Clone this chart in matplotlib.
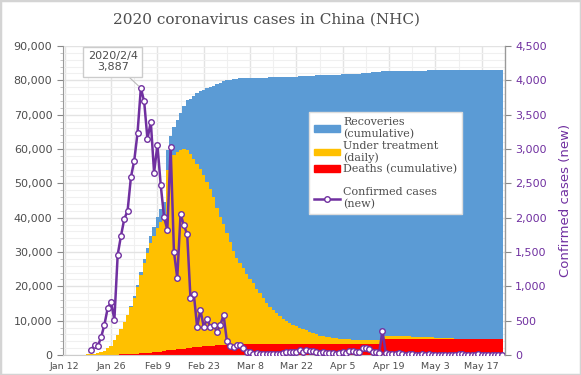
import numpy as np
import pandas as pd
import matplotlib
matplotlib.use("Agg")
import matplotlib.pyplot as plt
from matplotlib.patches import Patch, Rectangle
from matplotlib.lines import Line2D
from matplotlib.ticker import FuncFormatter, MultipleLocator

# -----------------------------
# Data (NHC, mainland China)
# -----------------------------
dates = pd.date_range("2020-01-12", "2020-05-23")

confirmed_total = [
    41, 41, 41, 41, 45, 62, 121, 198, 291, 440, 571, 830, 1287, 1975, 2744, 4515, 5974, 7711, 9692, 11791,
    14380, 17205, 20438, 24324, 28018, 31161, 34546, 37198, 40171, 42638, 44653, 59804, 63851, 66492, 68500,
    70548, 72436, 74185, 74576, 75465, 76288, 76936, 77150, 77658, 78064, 78497, 78824, 79251, 79824,
    80026, 80151, 80270, 80409, 80552, 80651, 80695, 80735, 80754, 80778, 80793, 80813, 80824, 80844, 80860,
    80881, 80894, 80928, 80967, 81008, 81054, 81093, 81171, 81218, 81285, 81340, 81394, 81439, 81470, 81518, 81554,
    81589, 81620, 81639, 81669, 81708, 81740, 81802, 81865, 81907, 81953, 82052, 82160, 82249, 82295, 82341,
    82367, 82692, 82719, 82735, 82747, 82758, 82788, 82798, 82804, 82816, 82827, 82830, 82836, 82858, 82862,
    82874, 82875, 82877, 82880, 82881, 82883, 82885, 82886, 82887, 82901, 82918, 82919, 82926, 82929, 82933,
    82941, 82947, 82954, 82960, 82965, 82967, 82971, 82974,
]

deaths = [
    1, 1, 1, 1, 2, 2, 3, 3, 6, 9, 17, 25, 41, 56, 80, 106, 132, 170, 213, 259,
    304, 361, 425, 490, 563, 636, 722, 811, 908, 1016, 1113, 1367, 1380, 1523, 1665, 1770, 1868, 2004, 2118,
    2236, 2345, 2442, 2592, 2663, 2715, 2744, 2788, 2835, 2870,
    2912, 2943, 2981, 3012, 3042, 3070, 3097, 3119, 3136, 3158, 3169, 3176, 3189, 3199, 3213, 3226, 3237,
    3245, 3248, 3255, 3261, 3270, 3277, 3281, 3287, 3292, 3295, 3300, 3304, 3305, 3312,
    3318, 3322, 3326, 3329, 3331, 3331, 3333, 3335, 3336, 3339, 3339, 3341, 3341, 3341, 3342, 3342,
    4632, 4632, 4632, 4632, 4632, 4632, 4632, 4632, 4632, 4632, 4632, 4632, 4632, 4632,
    4632, 4632, 4632, 4632, 4632, 4632, 4632, 4632, 4632, 4632, 4632, 4632, 4632, 4632, 4632, 4632,
    4633, 4634, 4634, 4634, 4634, 4634, 4634,
]

recoveries = [
    6, 7, 7, 12, 15, 19, 24, 25, 25, 28, 28, 34, 38, 49, 51, 60, 103, 124, 171, 243,
    328, 475, 632, 892, 1153, 1540, 2050, 2649, 3281, 3996, 4740, 5911, 6723, 8096, 9419, 10844, 12552,
    14376, 16155, 18264, 20659, 22888, 24734, 27323, 29745, 32495, 36117, 39002, 41625,
    44462, 47204, 49856, 52045, 53726, 55404, 57065, 58600, 59897, 61475, 62793, 64111, 65541, 66911, 67749,
    68679, 69601, 70420, 71150, 71740, 72244, 72703, 73159, 73650, 74051, 74588, 74971, 75448, 75790, 76052, 76238,
    76408, 76571, 76751, 76964, 77078, 77167, 77279, 77370, 77455, 77525, 77575, 77663, 77738, 77816, 77892,
    77944, 77062, 77080, 77103, 77166, 77207, 77290, 77328, 77371, 77418, 77472, 77550, 77557, 77607, 77690,
    77718, 77765, 77830, 77872, 77934, 77991, 78011, 78054, 78107, 78137, 78148, 78172, 78193, 78206, 78214,
    78224, 78230, 78234, 78241, 78249, 78254, 78261, 78261,
]

# daily new confirmed, starting Jan 20
new_start = "2020-01-20"
new_cases = [
    77, 149, 131, 259, 444, 688, 769, 514, 1459, 1737, 1982, 2102,
    2590, 2829, 3235, 3887, 3694, 3143, 3399, 2656, 3062, 2478, 2015, 1820, 3030, 1503, 1121, 2052, 1892,
    1757, 825, 892, 408, 655, 412, 519, 412, 437, 335, 437, 582,
    202, 125, 119, 139, 143, 99, 44, 40, 19, 24, 15, 8, 11, 20, 16, 21, 13, 34, 39, 41, 46, 39, 78, 47,
    67, 55, 54, 45, 31, 48, 36,
    35, 31, 19, 30, 39, 32, 62, 63, 42, 46, 99, 108, 89, 46, 46, 26, 352, 27, 16, 12, 11, 30, 10, 6, 12,
    11, 3, 6, 22, 4,
    12, 1, 2, 3, 1, 2, 2, 1, 1, 14, 17, 1, 7, 3, 4, 8, 6, 7, 6, 5, 2, 4, 3,
]

tick_dates = ["2020-01-12", "2020-01-26", "2020-02-09", "2020-02-23", "2020-03-08",
              "2020-03-22", "2020-04-05", "2020-04-19", "2020-05-03", "2020-05-17"]

# -----------------------------
# Chart
# -----------------------------
C_BLUE = "#5b9bd5"
C_YELLOW = "#ffc000"
C_RED = "#ff0000"
C_PURPLE = "#7030a0"
C_TEXT = "#4d4d4d"

x = np.arange(len(dates))
d = np.array(deaths)
r = np.array(recoveries)
treat = np.array(confirmed_total) - d - r
x_new = np.arange(len(new_cases)) + (pd.Timestamp(new_start) - dates[0]).days

fig = plt.figure(figsize=(5.81, 3.75), dpi=100)
ax = fig.add_axes([0.108, 0.0533, 0.761, 0.824])

ax.bar(x, d, width=1.0, color=C_RED, linewidth=0)
ax.bar(x, treat, bottom=d, width=1.0, color=C_YELLOW, linewidth=0)
ax.bar(x, r, bottom=d + treat, width=1.0, color=C_BLUE, linewidth=0)

ax.set_xlim(-0.6, len(dates) - 0.4)
ax.set_ylim(0, 90000)
ax.set_axisbelow(True)
ax.yaxis.set_major_locator(MultipleLocator(10000))
ax.yaxis.set_minor_locator(MultipleLocator(2000))
ax.yaxis.set_major_formatter(FuncFormatter(lambda v, p: f"{int(v):,}"))
tick_pos = [(pd.Timestamp(t) - dates[0]).days for t in tick_dates]
ax.set_xticks(tick_pos)
ax.set_xticklabels([pd.Timestamp(t).strftime("%b %-d") for t in tick_dates])
ax.set_xticks(np.array(tick_pos) + 7, minor=True)
ax.grid(which="major", color="#e3e3e3", linewidth=1)
ax.grid(which="minor", color="#f0f0f0", linewidth=0.8)
ax.tick_params(axis="y", which="major", colors="#888888", labelcolor=C_TEXT, labelsize=8, length=4)
ax.tick_params(axis="y", which="minor", colors="#bbbbbb", length=2)
ax.tick_params(axis="x", which="both", length=0, labelsize=6.8, labelcolor=C_TEXT, pad=5)
ax.spines["top"].set_visible(False)
ax.spines["left"].set_color("#999999")
ax.spines["bottom"].set_color("#cccccc")

ax2 = ax.twinx()
ax2.plot(x_new, new_cases, color=C_PURPLE, linewidth=1.8, marker="o", markersize=4,
         markerfacecolor="white", markeredgecolor=C_PURPLE, markeredgewidth=1)
ax2.set_ylim(0, 4500)
ax2.yaxis.set_major_locator(MultipleLocator(500))
ax2.yaxis.set_major_formatter(FuncFormatter(lambda v, p: f"{int(v):,}"))
ax2.tick_params(axis="y", colors="#888888", labelcolor=C_PURPLE, labelsize=8, length=4)
ax2.set_ylabel("Confirmed cases (new)", color=C_PURPLE, fontsize=9.5, labelpad=9)
for s in ["top", "left", "bottom"]:
    ax2.spines[s].set_visible(False)
ax2.spines["right"].set_color("#999999")

# peak annotation
peak = int(np.argmax(new_cases))
pk = dates[x_new[peak]]
ax2.annotate(f"{pk.year}/{pk.month}/{pk.day}\n{new_cases[peak]:,}",
             xy=(x_new[peak], new_cases[peak]), xytext=(x_new[peak] - 8.5, 4270),
             ha="center", va="center", fontsize=8, color=C_TEXT, linespacing=1.15,
             bbox=dict(boxstyle="square,pad=0.4", fc="white", ec="#cccccc", lw=1),
             arrowprops=dict(arrowstyle="-", color="#bbbbbb", lw=0.8, shrinkA=0, shrinkB=2))

handles = [
    Patch(color=C_BLUE),
    Patch(color=C_YELLOW),
    Patch(color=C_RED),
    Line2D([], [], color="none"),
    Line2D([], [], color=C_PURPLE, linewidth=1.8, marker="o", markersize=4,
           markerfacecolor="white", markeredgecolor=C_PURPLE),
]
labels = ["Recoveries\n(cumulative)", "Under treatment\n(daily)", "Deaths (cumulative)", "",
          "Confirmed cases\n(new)"]
leg = ax2.legend(handles, labels, loc="upper left", bbox_to_anchor=(0.558, 0.785),
                 prop={"family": "DejaVu Serif", "size": 8}, frameon=True, fancybox=False,
                 edgecolor="#dddddd", framealpha=1, handlelength=2.3, handleheight=0.55,
                 handletextpad=0.3, labelspacing=0.12, borderpad=0.45, borderaxespad=0)
for t in leg.get_texts():
    t.set_color(C_TEXT)

fig.suptitle("2020 coronavirus cases in China (NHC)", x=0.458, y=0.965, fontsize=11,
             family="DejaVu Serif", color=C_TEXT)

fig.add_artist(Rectangle((0, 0), 1, 1, transform=fig.transFigure, fill=False,
                         ec="#d4d4d4", lw=2.5))

plt.savefig("out.png", dpi=100)
plt.close()
